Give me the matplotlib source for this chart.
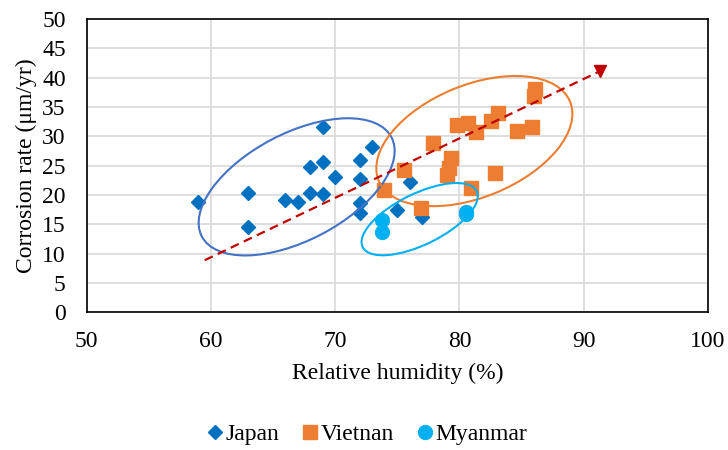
import matplotlib
matplotlib.use("Agg")
import matplotlib.pyplot as plt
from matplotlib.patches import Ellipse
from matplotlib.transforms import ScaledTranslation

plt.rcParams['font.family'] = ['Liberation Serif', 'DejaVu Serif']

# Relative humidity (%) and corrosion rate (um/yr) per site
japan_rh = [59, 63, 63, 66, 67, 68, 68, 69, 69, 69, 70, 72, 72, 72, 72, 73, 75, 76, 77, 79]
japan_cr = [18.8, 20.4, 14.6, 19.2, 18.8, 24.8, 20.3, 31.6, 25.6, 20.2, 23.0, 26.0, 22.7,
            18.7, 17.0, 28.2, 17.5, 22.2, 16.2, 23.6]

vietnam_rh = [86.1, 86.0, 79.8, 80.7, 81.3, 82.5, 83.1, 84.6, 85.8, 77.9, 79.3, 79.2, 79.0,
              82.9, 75.5, 73.9, 80.9, 76.9]
vietnam_cr = [38.0, 36.8, 31.9, 32.3, 30.7, 32.6, 33.9, 30.9, 31.6, 28.9, 26.3, 24.6, 23.4,
              23.7, 24.3, 20.9, 21.2, 17.8]

myanmar_rh = [73.8, 73.8, 80.5, 80.5]
myanmar_cr = [15.7, 13.7, 17.2, 16.7]

# Trend arrow endpoints (RH, rate)
trend_rh = [59.5, 91.3]
trend_cr = [8.9, 41.1]

FS = 17

fig = plt.figure(figsize=(7.28, 4.5), dpi=100)
ax = fig.add_axes([0.119, 0.3056, 0.8535, 0.6522])

ax.plot(japan_rh, japan_cr, linestyle='none', marker='D', ms=7.5, color='#0070C0',
        label='Japan', zorder=3)
ax.plot(vietnam_rh, vietnam_cr, linestyle='none', marker='s', ms=10, color='#ED7D31',
        label='Vietnan', zorder=4)
ax.plot(myanmar_rh, myanmar_cr, linestyle='none', marker='o', ms=10, color='#00B0F0',
        label='Myanmar', zorder=5)

# Group outlines: centre in data units, size/angle in inches on the page
groups = [
    ((66.9, 21.4), 2.14, 1.07, 27.6, '#4472C4'),
    ((81.2, 29.2), 2.07, 1.12, 22.4, '#ED7D31'),
    ((76.8, 15.9), 1.27, 0.51, 26.1, '#00B0F0'),
]
for (cx, cy), w, h, ang, col in groups:
    tr = fig.dpi_scale_trans + ScaledTranslation(cx, cy, ax.transData)
    e = Ellipse((0, 0), width=w, height=h, angle=ang, transform=tr,
                fill=False, edgecolor=col, linewidth=1.5, zorder=6)
    ax.add_patch(e)

# Dashed trend with arrow head
ax.plot(trend_rh, trend_cr, color='#C00000', linewidth=1.6, dashes=(4, 2.5), zorder=7)
ax.plot(trend_rh[-1], trend_cr[-1], marker='v', ms=9, color='#C00000',
        linestyle='none', zorder=7)

ax.set_xlim(50, 100)
ax.set_ylim(0, 50)
ax.set_xticks(range(50, 101, 10))
ax.set_yticks(range(0, 51, 5))
ax.grid(True, color='#D9D9D9', linewidth=1.2)
ax.set_axisbelow(True)
ax.tick_params(length=0, labelsize=FS)
ax.tick_params(axis='x', pad=13)
ax.tick_params(axis='y', pad=15)
for s in ax.spines.values():
    s.set_linewidth(1.2)
    s.set_color('black')

ax.set_xlabel('Relative humidity (%)', fontsize=FS, labelpad=8)
ax.set_ylabel('Corrosion rate (μm/yr)', fontsize=FS, labelpad=4)

fig.legend(loc='center', bbox_to_anchor=(0.505, 0.035), ncol=3, frameon=False,
           fontsize=FS, handlelength=0.6, handletextpad=0.15, columnspacing=1.0)

fig.savefig('out.png', dpi=100)
